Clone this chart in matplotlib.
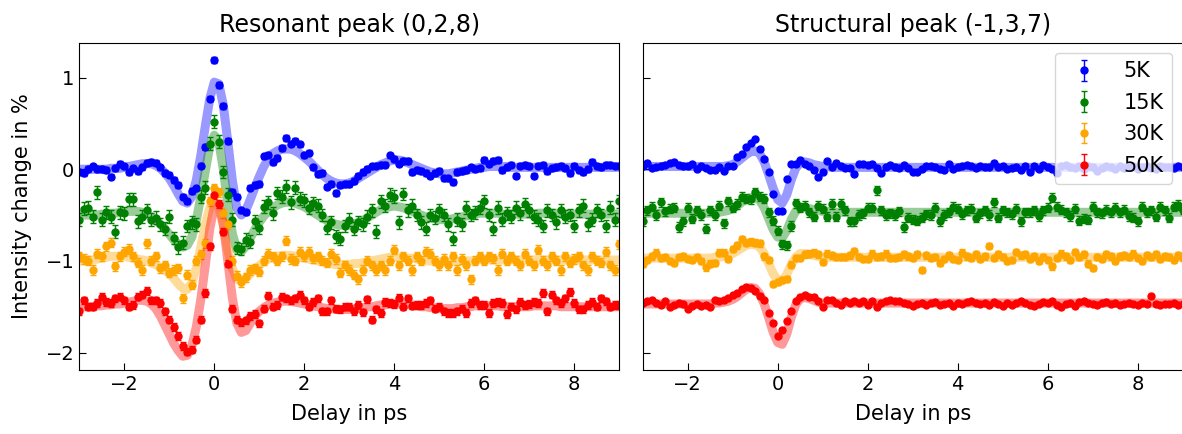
import numpy as np
import matplotlib

matplotlib.use("Agg")
import matplotlib.pyplot as plt

# delay axis in ps (measured in 0.1 ps steps from -3 to 9 ps)
delay = np.linspace(-3.0, 9.0, 121)

labels = ["5K", "15K", "30K", "50K"]
colors = ["blue", "green", "orange", "red"]

# ---- resonant peak (0,2,8): measured intensity change in %
res_5K = [
    -0.03, -0.04, 0.00, 0.03, 0.00, 0.00, -0.01, -0.08, 0.01, 0.06,
    0.03, -0.03, 0.01, -0.02, 0.02, 0.07, 0.08, 0.07, 0.02, -0.04,
    -0.06, -0.12, -0.17, -0.30, -0.35, -0.24, -0.21, 0.04, 0.24, 0.77,
    1.19, 0.92, 0.69, 0.31, -0.25, -0.30, -0.45, -0.47, -0.20, -0.17,
    -0.16, 0.14, 0.16, 0.08, 0.12, 0.23, 0.34, 0.28, 0.31, 0.27,
    0.15, 0.18, 0.02, -0.05, -0.04, -0.19, -0.16, -0.26, -0.17, -0.16,
    -0.16, -0.13, -0.07, -0.03, 0.00, 0.03, 0.04, 0.05, 0.05, 0.15,
    0.11, 0.06, 0.09, 0.09, -0.03, -0.01, -0.02, -0.04, -0.07, -0.04,
    -0.02, -0.10, -0.10, -0.14, -0.03, -0.02, -0.01, 0.02, 0.00, 0.01,
    0.10, 0.06, 0.09, 0.10, -0.01, 0.02, 0.05, -0.07, 0.04, 0.05,
    0.03, -0.07, 0.04, 0.05, -0.02, 0.01, 0.02, 0.04, 0.01, -0.04,
    0.04, -0.01, -0.03, 0.00, 0.08, 0.03, 0.02, 0.05, 0.05, 0.04, 0.04,
]
res_15K = [
    -0.55, -0.43, -0.42, -0.52, -0.25, -0.55, -0.47, -0.52, -0.68, -0.47,
    -0.48, -0.33, -0.33, -0.57, -0.52, -0.45, -0.55, -0.53, -0.60, -0.65,
    -0.52, -0.75, -0.85, -0.80, -0.62, -0.58, -0.60, -0.30, -0.20, 0.28,
    0.52, 0.30, -0.03, -0.28, -0.55, -0.86, -0.87, -0.77, -0.79, -0.57,
    -0.64, -0.41, -0.36, -0.48, -0.26, -0.30, -0.19, -0.36, -0.20, -0.32,
    -0.34, -0.42, -0.37, -0.40, -0.50, -0.64, -0.58, -0.73, -0.76, -0.62,
    -0.55, -0.65, -0.58, -0.60, -0.52, -0.45, -0.68, -0.35, -0.40, -0.28,
    -0.30, -0.58, -0.27, -0.45, -0.40, -0.50, -0.58, -0.65, -0.50, -0.53,
    -0.45, -0.50, -0.60, -0.76, -0.55, -0.60, -0.42, -0.50, -0.47, -0.42,
    -0.35, -0.50, -0.65, -0.42, -0.55, -0.48, -0.52, -0.42, -0.48, -0.38,
    -0.45, -0.52, -0.55, -0.62, -0.45, -0.50, -0.58, -0.45, -0.52, -0.50,
    -0.62, -0.45, -0.40, -0.60, -0.55, -0.45, -0.50, -0.62, -0.42, -0.55, -0.35,
]
res_30K = [
    -0.95, -0.98, -1.00, -1.10, -0.92, -0.95, -0.84, -0.80, -1.06, -0.95,
    -0.90, -0.87, -0.95, -1.02, -1.10, -0.81, -1.00, -0.95, -1.08, -1.05,
    -1.13, -1.10, -1.08, -1.41, -1.15, -1.26, -1.00, -0.93, -0.81, -0.35,
    -0.21, -0.25, -0.48, -0.60, -1.00, -1.16, -1.23, -1.18, -1.10, -1.08,
    -1.12, -1.00, -0.92, -0.95, -1.00, -0.95, -0.78, -0.98, -1.00, -0.90,
    -0.95, -0.90, -0.97, -0.95, -1.00, -1.02, -0.92, -0.98, -1.13, -1.05,
    -1.10, -1.15, -1.20, -1.10, -1.00, -1.05, -1.10, -1.05, -1.10, -1.00,
    -0.88, -1.05, -0.95, -1.00, -1.10, -0.95, -1.00, -0.90, -0.92, -1.00,
    -1.05, -0.98, -1.05, -0.95, -1.10, -0.98, -1.05, -1.20, -1.00, -0.95,
    -1.00, -0.95, -0.97, -1.10, -0.92, -1.00, -0.95, -1.00, -1.05, -0.92,
    -1.00, -1.05, -0.88, -1.00, -1.05, -0.95, -1.00, -1.10, -0.95, -1.02,
    -0.98, -0.95, -1.05, -1.10, -0.95, -1.00, -1.02, -0.90, -1.05, -1.10, -0.82,
]
res_50K = [
    -1.55, -1.43, -1.50, -1.50, -1.46, -1.39, -1.45, -1.46, -1.41, -1.39,
    -1.43, -1.50, -1.48, -1.39, -1.37, -1.33, -1.43, -1.43, -1.46, -1.55,
    -1.64, -1.72, -1.82, -1.93, -1.99, -1.97, -1.86, -1.64, -1.35, -0.84,
    -0.28, -0.38, -0.68, -1.03, -1.52, -1.64, -1.67, -1.65, -1.60, -1.58,
    -1.68, -1.52, -1.38, -1.50, -1.48, -1.39, -1.41, -1.43, -1.41, -1.37,
    -1.43, -1.50, -1.45, -1.41, -1.55, -1.55, -1.43, -1.52, -1.53, -1.50,
    -1.50, -1.55, -1.48, -1.56, -1.42, -1.64, -1.53, -1.57, -1.45, -1.46,
    -1.47, -1.40, -1.50, -1.41, -1.49, -1.48, -1.48, -1.46, -1.43, -1.52,
    -1.50, -1.55, -1.57, -1.57, -1.55, -1.52, -1.57, -1.46, -1.43, -1.48,
    -1.48, -1.57, -1.46, -1.45, -1.46, -1.58, -1.50, -1.53, -1.45, -1.48,
    -1.47, -1.45, -1.46, -1.35, -1.55, -1.37, -1.43, -1.46, -1.41, -1.34,
    -1.46, -1.53, -1.53, -1.48, -1.45, -1.50, -1.41, -1.44, -1.50, -1.48, -1.48,
]

# fitted model curves, resonant peak
res_fit_5K = [
    0.00, 0.00, 0.00, 0.00, 0.00, 0.00, 0.00, 0.01, 0.01, 0.01,
    0.02, 0.03, 0.04, 0.05, 0.06, 0.06, 0.06, 0.04, 0.01, -0.04,
    -0.10, -0.18, -0.27, -0.35, -0.37, -0.30, -0.12, 0.15, 0.47, 0.77,
    0.95, 0.93, 0.70, 0.30, -0.12, -0.42, -0.50, -0.45, -0.33, -0.20,
    -0.08, 0.03, 0.11, 0.17, 0.20, 0.22, 0.22, 0.22, 0.20, 0.17,
    0.13, 0.09, 0.04, -0.01, -0.06, -0.10, -0.13, -0.15, -0.16, -0.16,
    -0.15, -0.13, -0.10, -0.07, -0.04, -0.01, 0.02, 0.05, 0.07, 0.09,
    0.10, 0.10, 0.09, 0.07, 0.05, 0.03, 0.01, -0.01, -0.03, -0.04,
    -0.05, -0.05, -0.05, -0.04, -0.03, -0.02, -0.01, 0.00, 0.01, 0.02,
    0.02, 0.03, 0.03, 0.03, 0.03, 0.03, 0.02, 0.02, 0.02, 0.02,
    0.02, 0.02, 0.02, 0.02, 0.02, 0.02, 0.02, 0.02, 0.02, 0.02,
    0.02, 0.02, 0.02, 0.02, 0.02, 0.02, 0.02, 0.02, 0.02, 0.02, 0.02,
]
res_fit_15K = [
    -0.50, -0.50, -0.50, -0.50, -0.50, -0.49, -0.49, -0.48, -0.48, -0.47,
    -0.47, -0.46, -0.46, -0.46, -0.47, -0.49, -0.52, -0.56, -0.60, -0.65,
    -0.71, -0.77, -0.82, -0.85, -0.83, -0.74, -0.56, -0.30, -0.02, 0.25,
    0.37, 0.30, 0.00, -0.38, -0.70, -0.88, -0.90, -0.84, -0.75, -0.66,
    -0.58, -0.51, -0.46, -0.42, -0.39, -0.37, -0.36, -0.36, -0.37, -0.39,
    -0.41, -0.44, -0.47, -0.50, -0.53, -0.56, -0.58, -0.60, -0.61, -0.61,
    -0.61, -0.60, -0.58, -0.56, -0.53, -0.50, -0.47, -0.44, -0.42, -0.41,
    -0.40, -0.41, -0.42, -0.44, -0.46, -0.48, -0.50, -0.52, -0.53, -0.54,
    -0.55, -0.55, -0.55, -0.54, -0.53, -0.52, -0.51, -0.50, -0.49, -0.48,
    -0.48, -0.48, -0.48, -0.48, -0.49, -0.49, -0.49, -0.49, -0.49, -0.49,
    -0.49, -0.49, -0.48, -0.48, -0.48, -0.48, -0.48, -0.49, -0.49, -0.49,
    -0.49, -0.49, -0.49, -0.49, -0.49, -0.49, -0.49, -0.49, -0.49, -0.49, -0.49,
]
res_fit_30K = [
    -1.00, -1.00, -0.99, -0.99, -0.98, -0.97, -0.96, -0.95, -0.95, -0.95,
    -0.95, -0.96, -0.97, -0.98, -0.99, -1.00, -1.02, -1.04, -1.07, -1.10,
    -1.14, -1.19, -1.25, -1.30, -1.31, -1.24, -1.08, -0.85, -0.60, -0.42,
    -0.35, -0.42, -0.62, -0.88, -1.08, -1.20, -1.22, -1.19, -1.14, -1.09,
    -1.05, -1.01, -0.98, -0.96, -0.95, -0.94, -0.94, -0.94, -0.95, -0.96,
    -0.97, -0.98, -0.99, -1.00, -1.01, -1.02, -1.03, -1.04, -1.04, -1.04,
    -1.04, -1.03, -1.03, -1.02, -1.01, -1.00, -0.99, -0.98, -0.97, -0.96,
    -0.96, -0.96, -0.96, -0.97, -0.97, -0.98, -0.99, -1.00, -1.00, -1.01,
    -1.01, -1.01, -1.01, -1.01, -1.01, -1.00, -1.00, -1.00, -1.00, -0.99,
    -0.99, -0.99, -0.99, -0.99, -0.99, -0.99, -0.99, -0.99, -0.99, -0.99,
    -0.99, -0.99, -0.99, -0.99, -0.99, -0.99, -0.99, -0.99, -0.99, -0.99,
    -0.99, -0.99, -0.99, -0.99, -0.99, -0.99, -0.99, -0.99, -0.99, -0.99, -0.99,
]
res_fit_50K = [
    -1.50, -1.50, -1.50, -1.50, -1.49, -1.49, -1.48, -1.48, -1.47, -1.47,
    -1.46, -1.45, -1.44, -1.43, -1.43, -1.44, -1.47, -1.52, -1.60, -1.70,
    -1.80, -1.90, -1.98, -2.04, -2.03, -1.93, -1.72, -1.42, -1.05, -0.65,
    -0.40, -0.38, -0.60, -1.00, -1.40, -1.68, -1.78, -1.76, -1.68, -1.60,
    -1.55, -1.51, -1.48, -1.46, -1.45, -1.44, -1.44, -1.44, -1.45, -1.46,
    -1.47, -1.48, -1.49, -1.50, -1.51, -1.52, -1.52, -1.53, -1.53, -1.53,
    -1.53, -1.52, -1.52, -1.51, -1.50, -1.50, -1.49, -1.48, -1.48, -1.47,
    -1.47, -1.47, -1.47, -1.48, -1.48, -1.49, -1.50, -1.50, -1.51, -1.51,
    -1.52, -1.52, -1.52, -1.52, -1.51, -1.51, -1.50, -1.50, -1.49, -1.49,
    -1.49, -1.49, -1.49, -1.49, -1.50, -1.50, -1.50, -1.50, -1.50, -1.50,
    -1.50, -1.49, -1.49, -1.49, -1.49, -1.49, -1.49, -1.50, -1.50, -1.50,
    -1.50, -1.50, -1.50, -1.50, -1.50, -1.50, -1.50, -1.50, -1.50, -1.50, -1.50,
]

# ---- structural peak (-1,3,7): measured intensity change in %
str_5K = [
    0.03, 0.07, 0.01, 0.02, 0.04, 0.05, 0.07, 0.08, 0.05, 0.03,
    0.03, 0.06, 0.00, 0.03, 0.01, -0.01, -0.01, 0.02, -0.02, 0.03,
    0.04, 0.13, 0.17, 0.24, 0.29, 0.33, 0.22, 0.11, -0.03, -0.27,
    -0.46, -0.46, -0.11, 0.06, 0.06, 0.10, 0.06, 0.03, -0.01, -0.09,
    -0.03, 0.09, 0.02, 0.07, 0.03, 0.01, 0.01, -0.05, 0.06, 0.06,
    0.05, 0.06, 0.01, -0.04, 0.02, 0.05, 0.02, 0.01, 0.05, 0.01,
    -0.03, -0.03, 0.00, 0.03, 0.03, 0.02, 0.00, -0.01, 0.06, 0.00,
    0.02, 0.03, 0.05, 0.03, 0.01, 0.04, 0.02, 0.02, 0.07, 0.02,
    0.03, 0.00, 0.01, 0.02, -0.01, 0.04, -0.03, 0.03, 0.00, 0.05,
    0.02, 0.00, -0.04, 0.03, 0.05, 0.02, 0.01, 0.04, 0.00, 0.03,
    0.02, -0.02, 0.01, 0.04, 0.02, 0.00, 0.03, 0.01, 0.02, 0.04,
    0.00, 0.02, 0.03, 0.01, 0.00, 0.03, 0.02, 0.02, 0.01, 0.03, 0.02,
]
str_15K = [
    -0.57, -0.45, -0.41, -0.50, -0.36, -0.46, -0.43, -0.42, -0.63, -0.57,
    -0.42, -0.54, -0.45, -0.50, -0.65, -0.45, -0.50, -0.40, -0.59, -0.35,
    -0.42, -0.38, -0.30, -0.32, -0.33, -0.25, -0.30, -0.32, -0.47, -0.56,
    -0.67, -0.82, -0.83, -0.62, -0.37, -0.42, -0.40, -0.47, -0.52, -0.40,
    -0.43, -0.52, -0.38, -0.52, -0.38, -0.45, -0.57, -0.57, -0.50, -0.48,
    -0.42, -0.42, -0.23, -0.45, -0.50, -0.48, -0.50, -0.46, -0.63, -0.53,
    -0.55, -0.56, -0.53, -0.49, -0.50, -0.42, -0.57, -0.50, -0.47, -0.41,
    -0.43, -0.49, -0.45, -0.43, -0.53, -0.48, -0.45, -0.50, -0.36, -0.53,
    -0.45, -0.47, -0.49, -0.43, -0.57, -0.47, -0.47, -0.45, -0.51, -0.45,
    -0.42, -0.31, -0.41, -0.44, -0.47, -0.51, -0.43, -0.56, -0.54, -0.55,
    -0.41, -0.47, -0.48, -0.44, -0.47, -0.42, -0.47, -0.44, -0.51, -0.53,
    -0.57, -0.41, -0.47, -0.45, -0.52, -0.41, -0.45, -0.53, -0.41, -0.39, -0.44,
]
str_30K = [
    -1.03, -0.99, -0.95, -0.91, -0.97, -0.96, -1.00, -1.02, -0.96, -0.95,
    -0.98, -0.99, -0.96, -1.00, -1.07, -1.03, -1.02, -0.91, -0.91, -0.98,
    -0.87, -0.83, -0.76, -0.80, -0.79, -0.80, -0.81, -0.95, -0.99, -1.25,
    -1.23, -1.21, -1.20, -1.04, -0.97, -0.97, -0.93, -0.92, -0.91, -0.93,
    -1.01, -0.92, -0.94, -0.96, -0.96, -0.96, -0.94, -0.89, -0.96, -0.98,
    -0.98, -0.92, -0.96, -0.95, -0.92, -0.97, -0.97, -0.96, -0.93, -0.95,
    -0.97, -0.93, -1.10, -0.94, -0.97, -0.96, -1.02, -0.98, -0.94, -0.98,
    -0.99, -0.91, -0.95, -0.97, -0.93, -0.98, -0.95, -0.84, -0.97, -0.93,
    -0.96, -1.00, -0.99, -0.90, -0.94, -0.93, -0.98, -0.95, -1.00, -0.96,
    -0.99, -1.06, -0.97, -0.92, -0.95, -0.99, -0.90, -0.96, -0.93, -1.03,
    -1.08, -0.96, -0.98, -0.93, -0.95, -1.00, -0.95, -0.94, -0.96, -0.92,
    -0.97, -1.00, -0.94, -0.96, -0.93, -0.98, -0.95, -0.96, -0.99, -0.94, -0.97,
]
str_50K = [
    -1.46, -1.44, -1.43, -1.46, -1.48, -1.44, -1.50, -1.48, -1.46, -1.47,
    -1.52, -1.49, -1.47, -1.49, -1.48, -1.50, -1.43, -1.44, -1.43, -1.40,
    -1.37, -1.35, -1.31, -1.28, -1.30, -1.33, -1.38, -1.43, -1.57, -1.68,
    -1.82, -1.75, -1.66, -1.55, -1.44, -1.39, -1.37, -1.39, -1.39, -1.44,
    -1.50, -1.43, -1.43, -1.46, -1.48, -1.44, -1.46, -1.44, -1.46, -1.44,
    -1.48, -1.44, -1.50, -1.46, -1.44, -1.43, -1.44, -1.44, -1.46, -1.47,
    -1.49, -1.47, -1.46, -1.48, -1.46, -1.45, -1.48, -1.47, -1.46, -1.49,
    -1.46, -1.47, -1.45, -1.44, -1.46, -1.47, -1.46, -1.48, -1.45, -1.47,
    -1.49, -1.46, -1.48, -1.46, -1.44, -1.46, -1.48, -1.49, -1.47, -1.45,
    -1.46, -1.44, -1.48, -1.50, -1.47, -1.46, -1.49, -1.45, -1.44, -1.46,
    -1.47, -1.48, -1.46, -1.45, -1.47, -1.46, -1.48, -1.47, -1.46, -1.47,
    -1.48, -1.46, -1.47, -1.38, -1.47, -1.48, -1.47, -1.47, -1.46, -1.48, -1.47,
]

# fitted model curves, structural peak (flat after ~1 ps)
str_fit_5K = [
    0.03, 0.03, 0.03, 0.03, 0.03, 0.03, 0.03, 0.03, 0.03, 0.03,
    0.03, 0.03, 0.03, 0.03, 0.03, 0.03, 0.03, 0.03, 0.03, 0.04,
    0.05, 0.08, 0.12, 0.16, 0.19, 0.20, 0.17, 0.08, -0.06, -0.21,
    -0.33, -0.37, -0.28, -0.12, 0.01, 0.07, 0.08, 0.07, 0.05, 0.04,
] + [0.03, 0.03, 0.02, 0.02, 0.02] + [0.02] * 76
str_fit_15K = [
    -0.48, -0.48, -0.48, -0.48, -0.48, -0.48, -0.48, -0.48, -0.48, -0.48,
    -0.48, -0.48, -0.48, -0.48, -0.48, -0.48, -0.47, -0.47, -0.46, -0.45,
    -0.43, -0.40, -0.36, -0.33, -0.31, -0.31, -0.34, -0.42, -0.54, -0.66,
    -0.74, -0.75, -0.67, -0.55, -0.46, -0.42, -0.42, -0.43, -0.44, -0.45,
] + [-0.46, -0.46, -0.46] + [-0.47] * 78
str_fit_30K = [
    -0.97, -0.97, -0.97, -0.97, -0.97, -0.97, -0.97, -0.97, -0.97, -0.97,
    -0.97, -0.97, -0.97, -0.97, -0.97, -0.97, -0.96, -0.96, -0.95, -0.94,
    -0.92, -0.89, -0.86, -0.83, -0.82, -0.82, -0.85, -0.92, -1.03, -1.14,
    -1.21, -1.22, -1.15, -1.04, -0.96, -0.92, -0.92, -0.93, -0.94, -0.95,
] + [-0.96] * 81
str_fit_50K = [
    -1.47, -1.47, -1.47, -1.47, -1.47, -1.47, -1.47, -1.47, -1.47, -1.47,
    -1.47, -1.47, -1.47, -1.47, -1.47, -1.47, -1.46, -1.46, -1.45, -1.44,
    -1.42, -1.39, -1.35, -1.31, -1.29, -1.30, -1.36, -1.47, -1.62, -1.78,
    -1.89, -1.91, -1.80, -1.62, -1.48, -1.41, -1.40, -1.41, -1.43, -1.45,
] + [-1.46] * 81

# typical error bar size per temperature
res_err = [0.03, 0.07, 0.05, 0.04]
str_err = [0.015, 0.05, 0.035, 0.015]

panels = [
    ("Resonant peak (0,2,8)", [res_5K, res_15K, res_30K, res_50K],
     [res_fit_5K, res_fit_15K, res_fit_30K, res_fit_50K], res_err),
    ("Structural peak (-1,3,7)", [str_5K, str_15K, str_30K, str_50K],
     [str_fit_5K, str_fit_15K, str_fit_30K, str_fit_50K], str_err),
]


def main():
    plt.rcParams["font.family"] = "DejaVu Sans"
    fig = plt.figure(figsize=(11.82, 4.34), dpi=100)
    ax1 = fig.add_axes([79.3 / 1182, 64 / 434, 540 / 1182, 327.3 / 434])
    ax2 = fig.add_axes([642.7 / 1182, 64 / 434, 540 / 1182, 327.3 / 434], sharey=ax1)

    for ax, (title, data, fits, errs) in zip([ax1, ax2], panels):
        for values, fit, err, color, label in zip(data, fits, errs, colors, labels):
            assert len(values) == len(delay) and len(fit) == len(delay)
            ax.plot(delay, fit, color=color, lw=6.5, alpha=0.4, solid_capstyle="round")
            ax.errorbar(delay, values, yerr=err, fmt="o", color=color, ms=5,
                        capsize=2.5, elinewidth=1, label=label)
        ax.set_title(title, fontsize=17, pad=8)
        ax.set_xlabel("Delay in ps", fontsize=15, labelpad=7)
        ax.set_xlim(-3, 9)
        ax.tick_params(direction="in", length=5, labelsize=14)

    ax1.set_ylim(-2.19, 1.38)
    ax1.set_yticks([-2, -1, 0, 1])
    ax1.set_ylabel("Intensity change in %", fontsize=15, labelpad=10)
    ax2.tick_params(labelleft=False)
    ax2.legend(loc="upper right", fontsize=15, handletextpad=0.9, labelspacing=0.55)

    fig.savefig("out.png", dpi=100)


if __name__ == "__main__":
    main()
